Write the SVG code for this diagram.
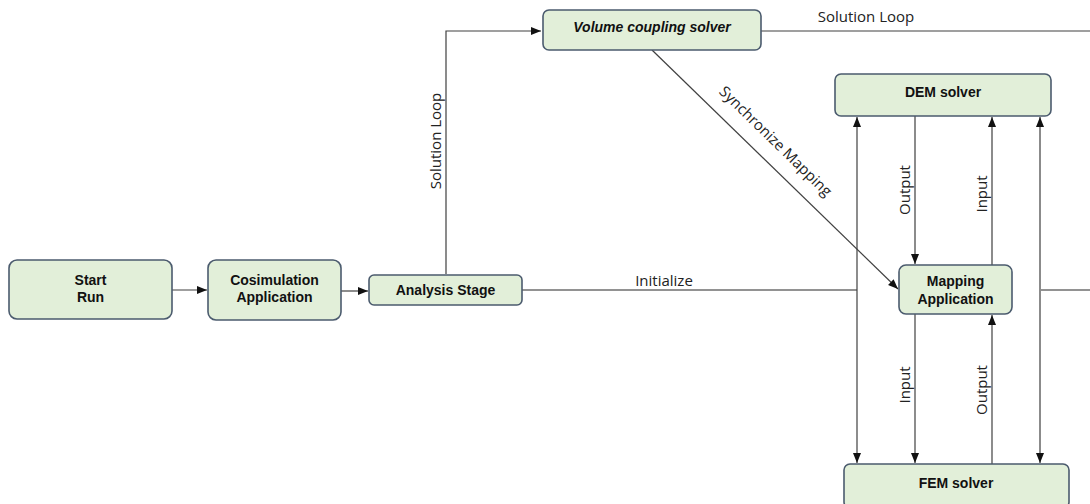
<svg xmlns="http://www.w3.org/2000/svg" width="1090" height="504" viewBox="0 0 1090 504">
<style>
.box{fill:#e2efd9;stroke:#4b5b6e;stroke-width:1.6}
.nt{font-family:"Liberation Sans",Arial,sans-serif;font-weight:bold;font-size:14px;fill:#111;text-anchor:middle}
.ln{fill:none;stroke:#404040;stroke-width:1.2}
.gl{fill:none;stroke:#6e6e6e;stroke-width:1.6}
.lb{font-family:"Open Sans","Noto Sans",sans-serif;font-size:15px;fill:#222;text-anchor:middle}
</style>
<defs>
<marker id="ah" viewBox="0 0 10 10" refX="10" refY="5" markerWidth="10" markerHeight="10" markerUnits="userSpaceOnUse" orient="auto-start-reverse">
<path d="M0,1 L10,5 L0,9 Z" fill="#111"/>
</marker>
</defs>
<rect width="1090" height="504" fill="#fff"/>
<g id="connectors">
<line class="ln" x1="172" y1="290" x2="207" y2="290" marker-end="url(#ah)"/>
<line class="ln" x1="341" y1="291" x2="368" y2="291" marker-end="url(#ah)"/>
<polyline class="ln" points="446,274 446,31 541,31" marker-end="url(#ah)"/>
<line class="ln" x1="761" y1="31" x2="1090" y2="31"/>
<line class="gl" x1="522" y1="290" x2="857" y2="290"/>
<line class="gl" x1="1041" y1="290" x2="1090" y2="290"/>
<line class="ln" x1="652" y1="50" x2="898" y2="289" marker-end="url(#ah)"/>
<line class="ln" x1="857" y1="117" x2="857" y2="463" marker-start="url(#ah)" marker-end="url(#ah)"/>
<line class="gl" x1="1040" y1="117" x2="1040" y2="463" marker-start="url(#ah)" marker-end="url(#ah)"/>
<line class="gl" x1="915" y1="116" x2="915" y2="264" marker-end="url(#ah)"/>
<line class="gl" x1="992" y1="265" x2="992" y2="117" marker-end="url(#ah)"/>
<line class="ln" x1="915" y1="314" x2="915" y2="463" marker-end="url(#ah)"/>
<line class="ln" x1="992" y1="464" x2="992" y2="315" marker-end="url(#ah)"/>
<text class="lb" x="866" y="22">Solution Loop</text>
<text class="lb" transform="translate(441,141) rotate(-90)">Solution Loop</text>
<text class="lb" x="664" y="286">Initialize</text>
<text class="lb" transform="translate(772,145) rotate(44.3)">Synchronize Mapping</text>
<text class="lb" transform="translate(910,190) rotate(-90)">Output</text>
<text class="lb" transform="translate(987,194) rotate(-90)">Input</text>
<text class="lb" transform="translate(910,385) rotate(-90)">Input</text>
<text class="lb" transform="translate(987,390) rotate(-90)">Output</text>
</g>
<g id="start">
<rect class="box" x="9" y="260" width="163" height="59" rx="8"/>
<text class="nt" x="90.5" y="285">Start</text>
<text class="nt" x="90.5" y="302">Run</text>
</g>
<g id="cosim">
<rect class="box" x="208" y="260" width="133" height="60" rx="8"/>
<text class="nt" x="274.5" y="285">Cosimulation</text>
<text class="nt" x="274.5" y="302">Application</text>
</g>
<g id="analysis">
<rect class="box" x="369" y="275" width="153" height="30" rx="5"/>
<text class="nt" x="445.5" y="295">Analysis Stage</text>
</g>
<g id="volume">
<rect class="box" x="543" y="10" width="218" height="40" rx="6"/>
<text class="nt" x="652" y="32" font-style="italic">Volume coupling solver</text>
</g>
<g id="dem">
<rect class="box" x="835" y="74" width="216" height="42" rx="6"/>
<text class="nt" x="943" y="97">DEM solver</text>
</g>
<g id="mapping">
<rect class="box" x="899" y="265" width="113" height="49" rx="7"/>
<text class="nt" x="955.5" y="286">Mapping</text>
<text class="nt" x="955.5" y="304">Application</text>
</g>
<g id="fem">
<rect class="box" x="844" y="464" width="225" height="44" rx="6"/>
<text class="nt" x="956" y="488">FEM solver</text>
</g>
</svg>
